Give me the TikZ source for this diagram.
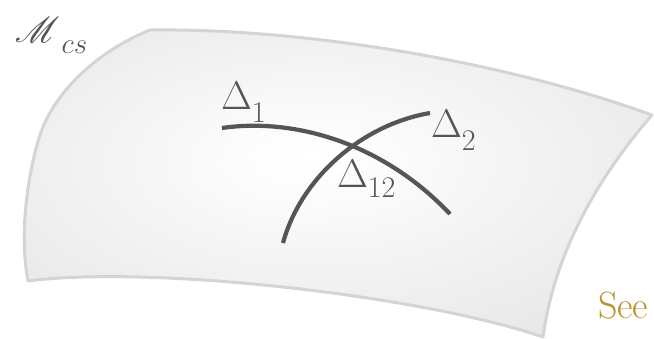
\RequirePackage{fix-cm}
\documentclass[tikz,border=0pt]{standalone}
\usepackage{mathrsfs}
\usepackage{fontspec}
\definecolor{edgegray}{RGB}{212,212,212}
\definecolor{ink}{RGB}{85,85,85}
\definecolor{gold}{RGB}{184,144,46}
\pgfdeclareradialshading{surfshade}{\pgfpoint{-2bp}{4bp}}{rgb(0bp)=(1,1,1); rgb(5bp)=(0.99,0.99,0.99); rgb(48bp)=(0.86,0.86,0.86); rgb(80bp)=(0.86,0.86,0.86)}
\tikzset{
  lbl/.style={inner sep=0pt, outer sep=0pt, anchor=base west, text=ink},
  curve/.style={draw=ink, line width=4.2pt},
}
\newcommand{\bigtxt}{\fontsize{40}{44}\selectfont}
\newcommand{\subtxt}{\fontsize{30}{32}\selectfont}
\begin{document}
\begin{tikzpicture}[x=1pt,y=-1pt]
\useasboundingbox (0,0) rectangle (654,338);
% surface
\path[shading=surfshade, draw=edgegray, line width=3pt, line join=round]
  (150,30) .. controls (300,28) and (500,60) .. (652,115)
  .. controls (600,175) and (555,250) .. (543,337)
  .. controls (420,295) and (150,265) .. (28,281)
  .. controls (18,230) and (30,165) .. (40,135)
  .. controls (55,90) and (100,50) .. (150,30) -- cycle;
% curves
\coordinate (c1s) at (222,128);
\coordinate (c1e) at (450,214);
\coordinate (c2s) at (283,243);
\coordinate (c2e) at (430,113);
\draw[curve] (c1s) .. controls (290,118) and (380,140) .. (c1e);
\draw[curve] (c2s) .. controls (300,180) and (360,125) .. (c2e);
% labels
\node[lbl] (d1) at (221,109) {\bigtxt$\Delta$\raisebox{-13pt}{\subtxt 1}};
\node[lbl] (d2) at (431,137) {\bigtxt$\Delta$\raisebox{-13.5pt}{\subtxt 2}};
\node[lbl] (d12) at (337,187) {\bigtxt$\Delta$\raisebox{-10pt}{\subtxt 12}};
\node[lbl] (mcs) at (15,42) {\fontsize{24.88}{28}\selectfont\scalebox{1.45}{$\mathscr{M}$}\hspace{2pt}\raisebox{-11pt}{\fontsize{29}{30}\selectfont$cs$}};
\node[lbl, text=gold] (see) at (598,318) {\fontsize{38}{40}\selectfont See};
\end{tikzpicture}
\end{document}
